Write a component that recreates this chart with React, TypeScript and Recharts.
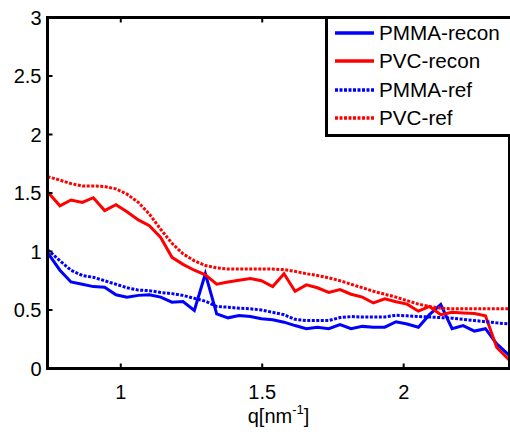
import React from 'react';
import { LineChart, Line, XAxis, YAxis } from 'recharts';

// q values (nm^-1)
const q = [
  0.741, 0.785, 0.824, 0.864, 0.903, 0.943, 0.983, 1.022, 1.062, 1.101,
  1.141, 1.181, 1.22, 1.26, 1.299, 1.339, 1.379, 1.418, 1.458, 1.497,
  1.537, 1.577, 1.616, 1.656, 1.695, 1.735, 1.775, 1.814, 1.854, 1.893,
  1.933, 1.973, 2.012, 2.052, 2.091, 2.131, 2.171, 2.21, 2.25, 2.289,
  2.329, 2.374,
];

const pmmaRecon = [
  0.99, 0.84, 0.74, 0.72, 0.7, 0.695, 0.63, 0.61, 0.625, 0.63,
  0.61, 0.567, 0.573, 0.496, 0.81, 0.467, 0.433, 0.453, 0.444, 0.425,
  0.416, 0.396, 0.367, 0.34, 0.353, 0.34, 0.376, 0.34, 0.36, 0.353,
  0.353, 0.4, 0.38, 0.353, 0.46, 0.547, 0.34, 0.367, 0.32, 0.34,
  0.21, 0.11,
];

const pvcRecon = [
  1.51, 1.39, 1.44, 1.42, 1.46, 1.35, 1.4, 1.34, 1.27, 1.22,
  1.12, 0.95, 0.89, 0.84, 0.8, 0.72, 0.74, 0.755, 0.77, 0.75,
  0.7, 0.81, 0.66, 0.715, 0.69, 0.65, 0.675, 0.635, 0.61, 0.56,
  0.595, 0.57, 0.55, 0.49, 0.53, 0.46, 0.48, 0.475, 0.47, 0.45,
  0.18, 0.07,
];

const pmmaRef = [
  1.015, 0.92, 0.84, 0.795, 0.78, 0.75, 0.72, 0.69, 0.67, 0.665,
  0.65, 0.64, 0.625, 0.6, 0.575, 0.53, 0.524, 0.515, 0.51, 0.5,
  0.48, 0.46, 0.42, 0.41, 0.41, 0.41, 0.435, 0.444, 0.44, 0.44,
  0.44, 0.455, 0.45, 0.445, 0.44, 0.435, 0.43, 0.42, 0.41, 0.4,
  0.39, 0.38,
];

const pvcRef = [
  1.64, 1.61, 1.58, 1.56, 1.56, 1.555, 1.535, 1.49, 1.42, 1.32,
  1.19, 1.07, 0.98, 0.92, 0.88, 0.86, 0.85, 0.85, 0.85, 0.85,
  0.85, 0.845, 0.83, 0.81, 0.795, 0.775, 0.75, 0.72, 0.69, 0.66,
  0.635, 0.61, 0.58, 0.55, 0.53, 0.515, 0.51, 0.51, 0.51, 0.51,
  0.51, 0.51,
];

const xTicks = [1, 1.5, 2];
const yTicks = [0, 0.5, 1, 1.5, 2, 2.5, 3];
const xDomain = [0.741, 2.374];

const series = [
  { key: 'pmmaRecon', name: 'PMMA-recon', color: '#0000ff', dash: undefined },
  { key: 'pvcRecon', name: 'PVC-recon', color: '#ff0000', dash: undefined },
  { key: 'pmmaRef', name: 'PMMA-ref', color: '#0000ff', dash: '3 1.5' },
  { key: 'pvcRef', name: 'PVC-ref', color: '#ff0000', dash: '3 1.5' },
];

const data = q.map((v, i) => ({
  q: v,
  pmmaRecon: pmmaRecon[i],
  pvcRecon: pvcRecon[i],
  pmmaRef: pmmaRef[i],
  pvcRef: pvcRef[i],
}));

const FONT = '"Liberation Sans", Arial, Helvetica, sans-serif';
const axisLineStyle = { stroke: '#000', strokeWidth: 3 };

// ticks point inward, MATLAB style
const LeftTick = (p: any) => (
  <g>
    <line x1={p.x} y1={p.y} x2={p.x + 5} y2={p.y} stroke="#000" strokeWidth={2} />
    <text x={p.x - 6} y={p.y} dy="0.355em" textAnchor="end" fontSize={20} fill="#000" fontFamily={FONT}>
      {p.payload.value}
    </text>
  </g>
);

const BottomTick = (p: any) => (
  <g>
    <line x1={p.x} y1={p.y} x2={p.x} y2={p.y - 5} stroke="#000" strokeWidth={2} />
    <text x={p.x} y={p.y + 30} textAnchor="middle" fontSize={20} fill="#000" fontFamily={FONT}>
      {p.payload.value}
    </text>
  </g>
);

const TopTick = (p: any) => (
  <line x1={p.x} y1={p.y} x2={p.x} y2={p.y + 5} stroke="#000" strokeWidth={2} />
);

const RightTick = (p: any) => (
  <line x1={p.x - 5} y1={p.y} x2={p.x} y2={p.y} stroke="#000" strokeWidth={2} />
);

const XLabel = (props: any) => {
  const vb = props.viewBox;
  const cx = vb.x + vb.width / 2;
  return (
    <text x={cx} y={vb.y + 54.5} textAnchor="middle" fontSize={20} fill="#000" fontFamily={FONT}>
      q[nm
      <tspan dy={-9} fontSize={13}>-1</tspan>
      <tspan dy={9}>]</tspan>
    </text>
  );
};

export default function App() {
  return (
    <div
      style={{
        position: 'absolute',
        left: 0,
        top: 0,
        width: 510,
        height: 432,
        overflow: 'hidden',
        background: '#fff',
        fontFamily: FONT,
      }}
    >
      <LineChart width={510} height={432} data={data} margin={{ top: 16.5, right: 0, bottom: 0, left: 0 }}>
        <XAxis
          xAxisId="b"
          dataKey="q"
          type="number"
          domain={xDomain}
          allowDataOverflow
          ticks={xTicks}
          tickSize={0}
          tickMargin={0}
          height={63.5}
          stroke="#000"
          axisLine={axisLineStyle}
          tickLine={false}
          tick={<BottomTick />}
          label={<XLabel />}
        />
        <XAxis
          xAxisId="t"
          orientation="top"
          dataKey="q"
          type="number"
          domain={xDomain}
          allowDataOverflow
          ticks={xTicks}
          tickSize={0}
          tickMargin={0}
          height={1}
          stroke="#000"
          axisLine={axisLineStyle}
          tickLine={false}
          tick={<TopTick />}
        />
        <YAxis
          yAxisId="l"
          type="number"
          domain={[0, 3]}
          ticks={yTicks}
          tickSize={0}
          tickMargin={0}
          width={47.5}
          stroke="#000"
          axisLine={axisLineStyle}
          tickLine={false}
          tick={<LeftTick />}
        />
        <YAxis
          yAxisId="r"
          orientation="right"
          type="number"
          domain={[0, 3]}
          ticks={yTicks}
          tickSize={0}
          tickMargin={0}
          width={0.5}
          stroke="#000"
          axisLine={axisLineStyle}
          tickLine={false}
          tick={<RightTick />}
        />
        {series.map((s) => (
          <Line
            key={s.key}
            xAxisId="b"
            yAxisId="l"
            dataKey={s.key}
            name={s.name}
            stroke={s.color}
            strokeWidth={3}
            strokeDasharray={s.dash}
            dot={false}
            activeDot={false}
            type="linear"
            isAnimationActive={false}
          />
        ))}
      </LineChart>
      {/* axes box */}
      <div
        style={{
          position: 'absolute',
          left: 46,
          top: 16,
          width: 465,
          height: 354,
          boxSizing: 'border-box',
          border: '3px solid #000',
          pointerEvents: 'none',
        }}
      />
      {/* legend */}
      <div
        style={{
          position: 'absolute',
          left: 325,
          top: 16,
          width: 200,
          height: 121,
          boxSizing: 'border-box',
          border: '3px solid #000',
          background: '#fff',
        }}
      >
        {series.map((s, i) => (
          <div key={s.key} style={{ position: 'absolute', left: 0, top: i * 28.4, width: 190, height: 28 }}>
            <svg width={44} height={28} style={{ position: 'absolute', left: 6, top: 0 }}>
              <line x1={1} y1={14} x2={40} y2={14} stroke={s.color} strokeWidth={3.5} strokeDasharray={s.dash} />
            </svg>
            <span
              style={{
                position: 'absolute',
                left: 51,
                top: 0,
                lineHeight: '28px',
                fontSize: 20.7,
                color: '#000',
                whiteSpace: 'nowrap',
              }}
            >
              {s.name}
            </span>
          </div>
        ))}
      </div>
    </div>
  );
}
